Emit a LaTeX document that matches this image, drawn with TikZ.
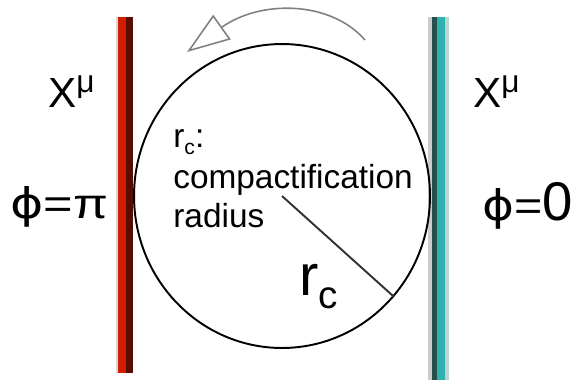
\documentclass[tikz,border=0pt]{standalone}
\usepackage{fontspec}
\setmainfont{Liberation Sans}
\newfontfamily\greekfont{DejaVu Sans}
\usetikzlibrary{arrows.meta,shapes.geometric}
\definecolor{branered}{RGB}{208,30,0}
\definecolor{branedark}{RGB}{90,12,0}
\definecolor{braneteal}{RGB}{46,178,172}
\definecolor{tealdark}{RGB}{38,78,76}
\definecolor{teallight}{RGB}{188,212,212}
\newcommand{\upmu}{\raisebox{8.5pt}{\fontsize{18}{20}\selectfont μ}}

\begin{document}
\begin{tikzpicture}[x=0.02cm,y=0.02cm,
  lbl/.style={inner sep=0pt,anchor=base west},
  big/.style={font=\fontsize{24}{28}\selectfont},
  small/.style={font=\fontsize{19}{22}\selectfont}]
  \useasboundingbox (0,0) rectangle (577,383);
  % branes
  \fill[gray!30] (116,10) rectangle (119,366);
  \fill[branered] (118,10) rectangle (126,366);
  \fill[branedark] (126,10) rectangle (133,366);
  \fill[gray!40] (428,3) rectangle (432,366);
  \fill[tealdark] (432,3) rectangle (437,366);
  \fill[braneteal] (437,3) rectangle (445,366);
  \fill[teallight] (445,3) rectangle (449,366);
  % compact dimension
  \node[draw,ellipse,line width=1.1pt,inner sep=0pt,
    minimum width=5.92cm,minimum height=6.08cm] (orbit) at (282,187) {};
  \draw[line width=1.1pt,black!80] (orbit.center) -- (orbit.-42);
  \coordinate (arcfrom) at (365,343);
  \coordinate (arcto) at (187,331);
  \draw[gray,line width=0.9pt,-{Triangle[open,length=0.86cm,width=0.6cm]}]
    (arcfrom) .. controls (330,383) and (260,383) .. (arcto);
  % labels
  \node[lbl,big] (xleft) at (48,276) {X\upmu};
  \node[lbl,big] (xright) at (473,276) {X\upmu};
  \node[lbl,big] (phileft) at (10,165)
    {\scalebox{1.2}[1]{{\greekfont ϕ}=π}};
  \node[lbl,big] (phiright) at (482,163)
    {\scalebox{1.15}[1]{{\greekfont ϕ}=}{\fontsize{31}{36}\selectfont 0}};
  \node[lbl,small] (rcsmall) at (173,236)
    {r\raisebox{-4pt}{\fontsize{12}{14}\selectfont c}:};
  \node[lbl,small] (compact) at (173,195) {compactification};
  \node[lbl,small] (radius) at (173,156) {radius};
  \node[lbl,font=\fontsize{33}{38}\selectfont] (rcbig) at (299,88)
    {r\raisebox{-7.4pt}{\fontsize{22}{26}\selectfont c}};
\end{tikzpicture}
\end{document}
